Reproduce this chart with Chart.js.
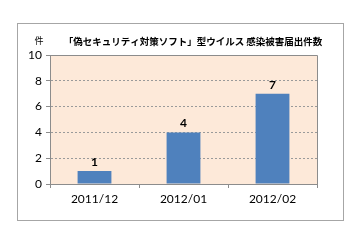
<!DOCTYPE html>
<html>
<head>
    <title>感染被害届出件数</title>
    <script src="https://cdn.jsdelivr.net/npm/chart.js"></script>
    <style>
        body { margin: 0; background: #ffffff; }
        #wrap { position: relative; width: 360px; height: 240px; }
    </style>
</head>
<body>
<div id="wrap">
    <canvas id="Bars" width="360" height="240"></canvas>
</div>
<script>
    const title = "「偽セキュリティ対策ソフト」型ウイルス 感染被害届出件数";
    const unit = "件";
    const months = ["2011/12", "2012/01", "2012/02"];
    const reports = [1, 4, 7];
    const y_ticks = [0, 2, 4, 6, 8, 10];

    const jp_font = "'Noto Sans CJK JP', sans-serif";
    const num_font = "Lato, 'Noto Sans', sans-serif";

    // frame, plot background, title and labels over the bars
    const decor = {
        id: 'decor',
        beforeDraw(chart) {
            const ctx = chart.ctx;
            const a = chart.chartArea;
            ctx.save();
            ctx.fillStyle = '#ffffff';
            ctx.fillRect(0, 0, chart.width, chart.height);
            ctx.strokeStyle = '#a6a6a6';
            ctx.lineWidth = 1;
            ctx.strokeRect(17.5, 23.5, 326, 197);
            ctx.fillStyle = '#fde9d9';
            ctx.fillRect(a.left, a.top, a.right - a.left, a.bottom - a.top);
            ctx.fillStyle = '#000000';
            ctx.font = "9px " + jp_font;
            ctx.textAlign = 'center';
            ctx.textBaseline = 'middle';
            ctx.fillText(unit, 39, 41);
            ctx.font = "bold 9.5px " + jp_font;
            ctx.fillText(title, 193, 41);
            ctx.restore();
        },
        afterDatasetsDraw(chart) {
            const ctx = chart.ctx;
            const a = chart.chartArea;
            ctx.save();
            ctx.strokeStyle = '#8c8c8c';
            ctx.lineWidth = 1;
            ctx.beginPath();
            ctx.moveTo(a.left, a.top + 0.5);
            ctx.lineTo(a.right + 0.5, a.top + 0.5);
            ctx.lineTo(a.right + 0.5, a.bottom);
            ctx.stroke();
            ctx.fillStyle = '#000000';
            ctx.font = "bold 12px " + num_font;
            ctx.textAlign = 'center';
            ctx.textBaseline = 'bottom';
            chart.getDatasetMeta(0).data.forEach((bar, i) => {
                ctx.fillText(reports[i], bar.x, bar.y - 3);
            });
            ctx.restore();
        }
    };

    const canvas = document.getElementById('Bars');
    const bar_chart = new Chart(canvas, {
        type: 'bar',
        data: {
            labels: months,
            datasets: [{
                data: reports,
                backgroundColor: '#4f81bd',
                borderWidth: 0,
                categoryPercentage: 1,
                barPercentage: 0.38
            }]
        },
        plugins: [decor],
        options: {
            responsive: false,
            animation: false,
            events: [],
            layout: { padding: { left: 17, right: 43, top: 55, bottom: 24 } },
            plugins: {
                legend: { display: false },
                tooltip: { enabled: false },
                title: { display: false }
            },
            scales: {
                x: {
                    offset: true,
                    grid: {
                        offset: true,
                        drawOnChartArea: false,
                        drawTicks: true,
                        tickLength: 4,
                        color: '#8c8c8c'
                    },
                    border: { color: '#8c8c8c' },
                    ticks: {
                        color: '#000000',
                        font: { family: num_font, size: 12 },
                        padding: 4,
                        maxRotation: 0
                    },
                    afterFit(scale) { scale.height = 32; }
                },
                y: {
                    min: 0,
                    max: 10,
                    afterBuildTicks(scale) {
                        scale.ticks = y_ticks.map(v => ({ value: v }));
                    },
                    grid: {
                        color: (c) => (c.tick && (c.tick.value === 0 || c.tick.value === 10)) ? 'rgba(0,0,0,0)' : '#9a9a9a',
                        tickColor: '#8c8c8c',
                        tickLength: 4,
                        lineWidth: 1
                    },
                    border: { color: '#8c8c8c', dash: [2, 2], dashOffset: 0 },
                    ticks: {
                        color: '#000000',
                        font: { family: num_font, size: 12 },
                        padding: 4
                    },
                    afterFit(scale) { scale.width = 33; }
                }
            }
        }
    });
</script>
</body>
</html>
